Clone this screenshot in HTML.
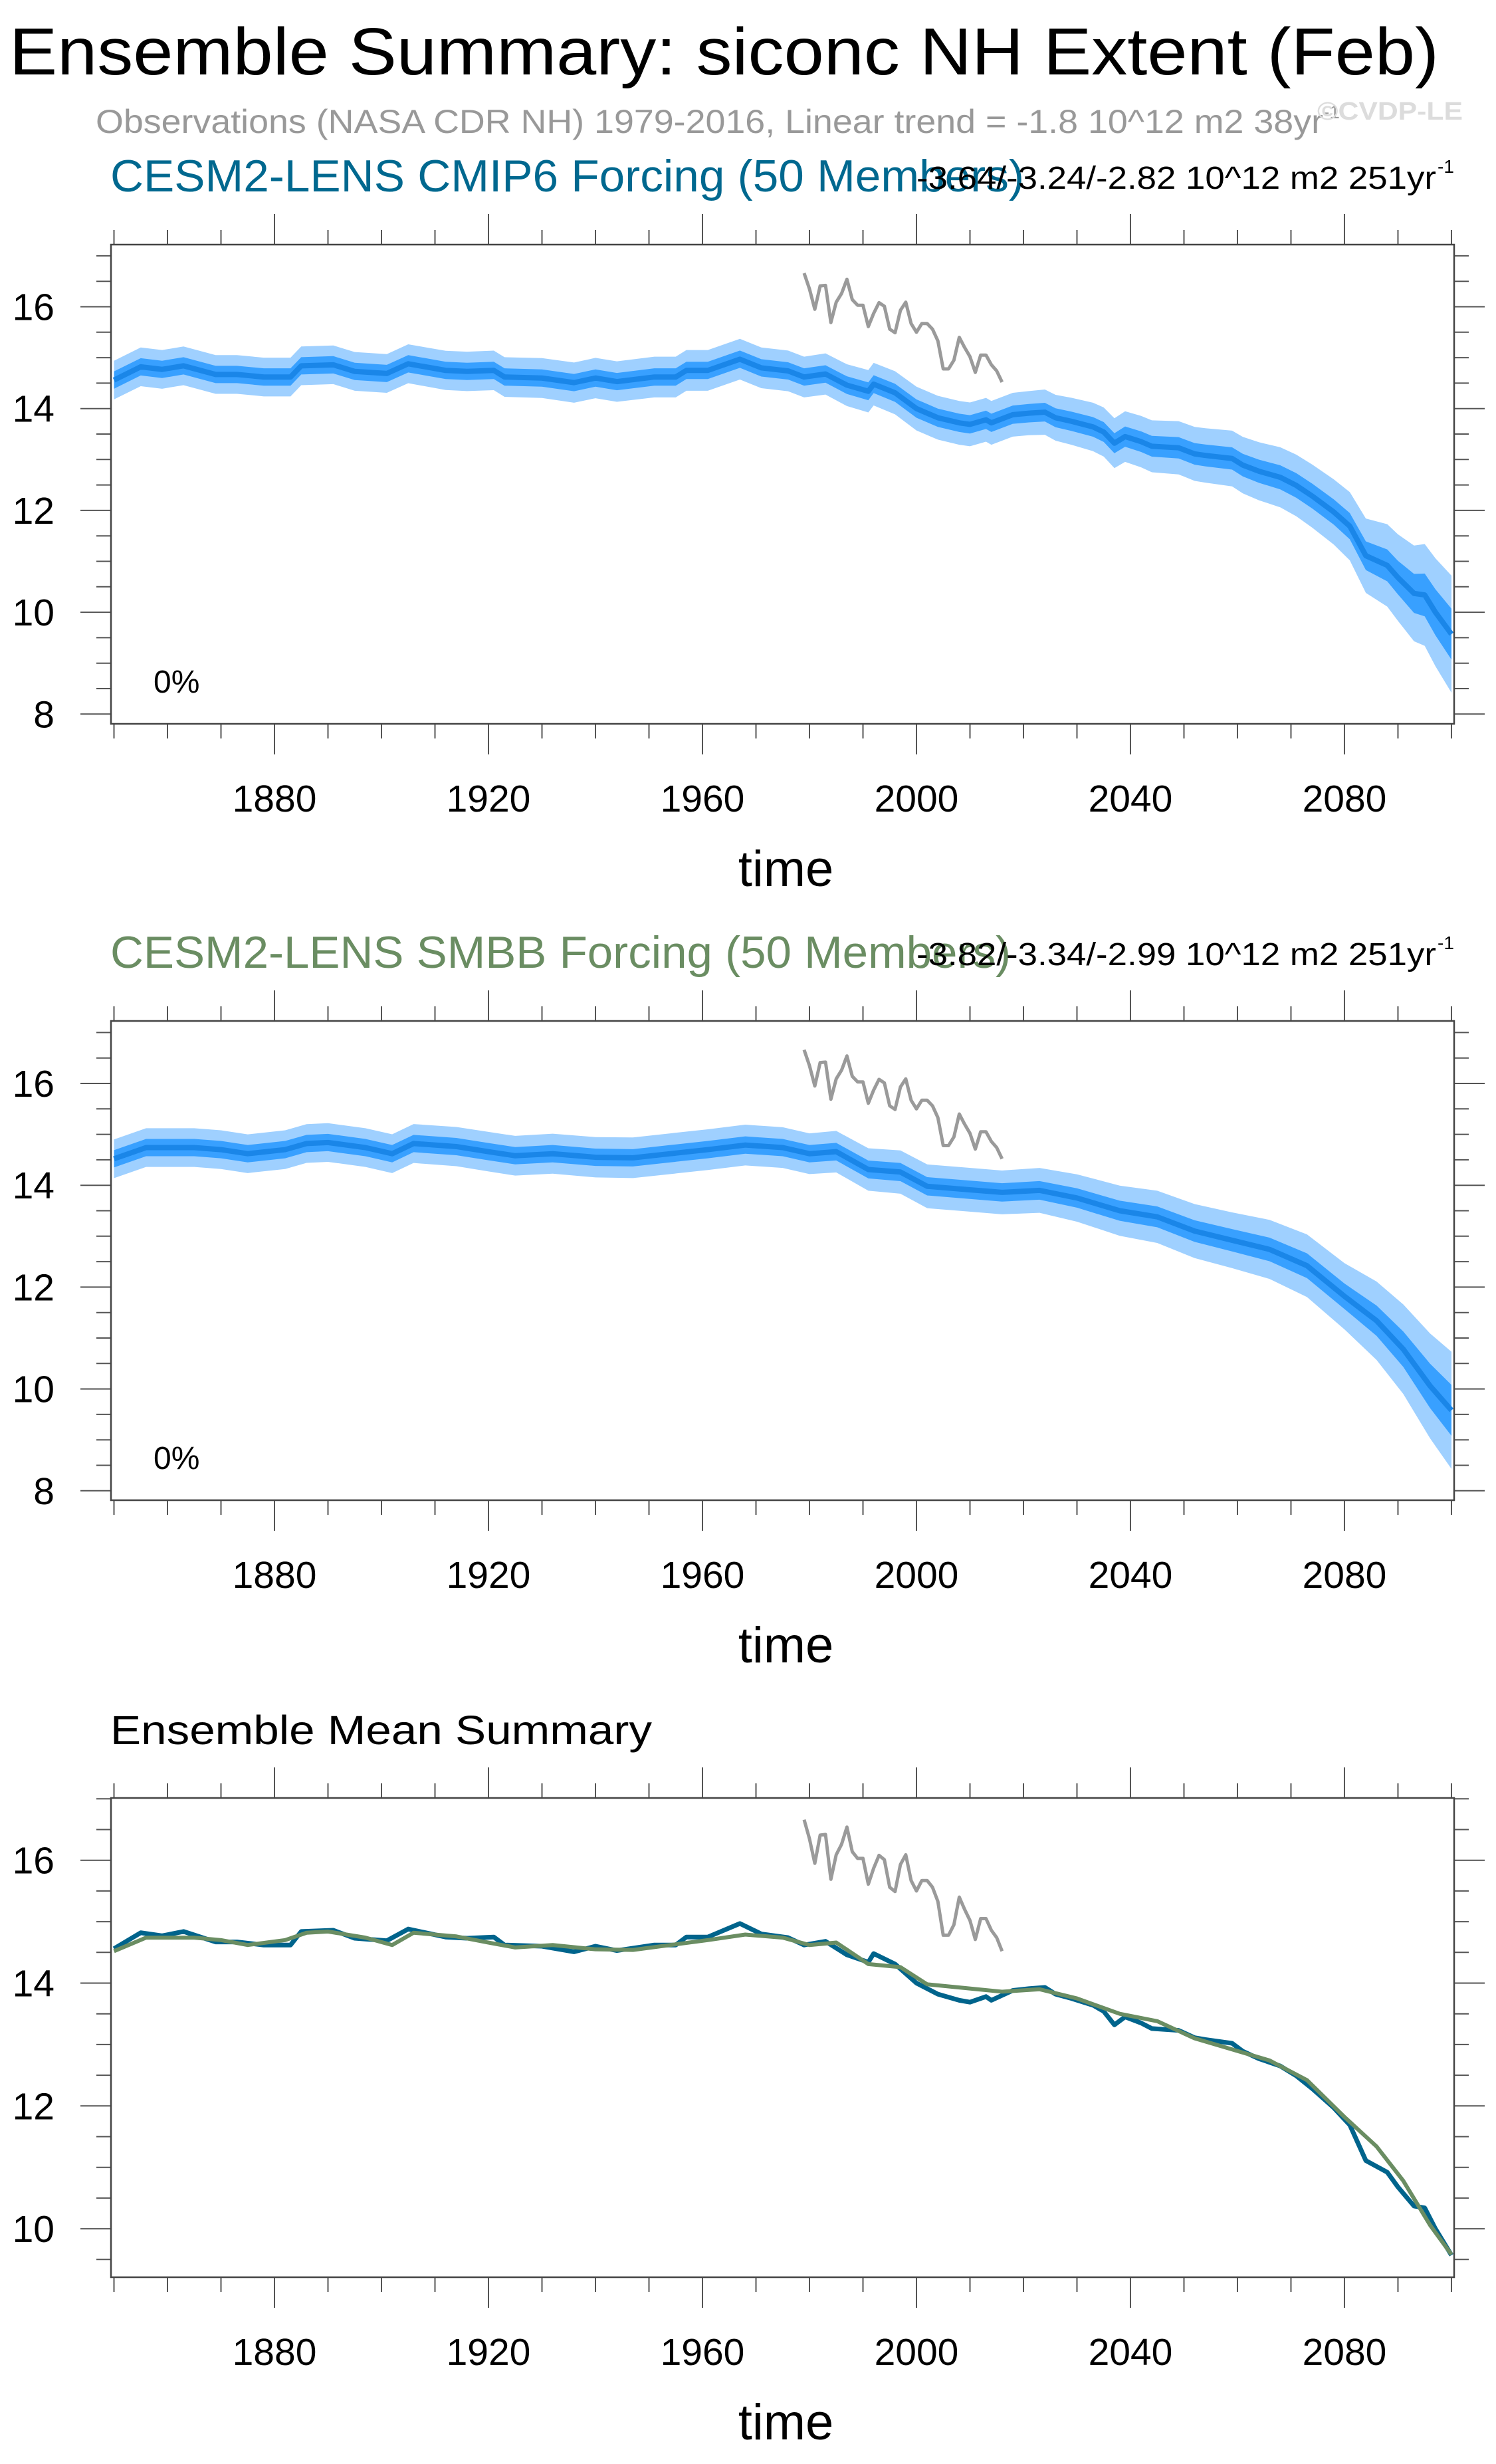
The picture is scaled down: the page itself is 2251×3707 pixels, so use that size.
<!DOCTYPE html>
<html><head><meta charset="utf-8"><style>
html,body{margin:0;padding:0;background:#fff;}
svg{display:block;font-family:"Liberation Sans",Arial,sans-serif;}
</style></head><body>
<svg id="fig" width="2251" height="3707" viewBox="0 0 2251 3707" xmlns="http://www.w3.org/2000/svg">
<rect x="0" y="0" width="2251" height="3707" fill="#fff"/>
<text x="14" y="112" font-size="100" textLength="2151" lengthAdjust="spacingAndGlyphs" fill="#000">Ensemble Summary: siconc NH Extent (Feb)</text>
<text x="144" y="200" font-size="50" textLength="1847" lengthAdjust="spacingAndGlyphs" fill="#999">Observations (NASA CDR NH) 1979-2016, Linear trend = -1.8 10^12 m2 38yr</text>
<text x="1991" y="178" font-size="28" fill="#999">-1</text>
<text x="1982" y="180" font-size="38" font-weight="bold" textLength="219" lengthAdjust="spacingAndGlyphs" fill="#dcdcdc">©CVDP-LE</text>
<g id="p1"></g>
<g id="p2"></g>
<g id="p3"></g>
</svg>
<script>
// ---- data ----
const obsYears = [1979,1980,1981,1982,1983,1984,1985,1986,1987,1988,1989,1990,1991,1992,1993,1994,1995,1996,1997,1998,1999,2000,2001,2002,2003,2004,2005,2006,2007,2008,2009,2010,2011,2012,2013,2014,2015,2016];
const obsValues = [16.66,16.35,15.95,16.41,16.42,15.69,16.09,16.26,16.54,16.14,16.03,16.03,15.61,15.87,16.08,16.01,15.56,15.49,15.93,16.09,15.67,15.50,15.67,15.67,15.56,15.33,14.78,14.78,14.95,15.40,15.20,15.02,14.71,15.05,15.05,14.86,14.74,14.52];
const cmipYears = [1850,1855,1859,1863,1869,1873,1878,1883,1885,1891,1895,1901,1905,1912,1916,1921,1923,1930,1936,1940,1944,1951,1955,1957,1961,1967,1971,1976,1979,1983,1987,1991,1992,1996,2000,2004,2008,2010,2013,2014,2018,2021,2024,2026,2029,2033,2035,2037,2039,2042,2044,2049,2052,2054,2059,2061,2064,2068,2071,2074,2078,2081,2084,2088,2090,2093,2095,2097,2100];
const cmipMean = [14.56,14.82,14.77,14.84,14.67,14.67,14.62,14.62,14.84,14.86,14.73,14.69,14.88,14.75,14.73,14.75,14.62,14.60,14.51,14.60,14.53,14.62,14.62,14.75,14.75,14.97,14.80,14.74,14.62,14.68,14.46,14.34,14.48,14.31,14.0,13.82,13.72,13.69,13.78,13.72,13.88,13.91,13.93,13.82,13.75,13.64,13.54,13.32,13.45,13.35,13.26,13.23,13.11,13.08,13.02,12.89,12.77,12.65,12.49,12.28,11.97,11.69,11.11,10.92,10.68,10.37,10.34,10.0,9.57];
const smbbYears = [1850,1856,1865,1870,1875,1882,1886,1890,1897,1902,1906,1914,1920,1925,1932,1940,1947,1954,1961,1968,1975,1980,1985,1991,1997,2002,2009,2016,2023,2030,2038,2045,2052,2059,2066,2073,2080,2086,2091,2096,2100];
const smbbMean = [14.52,14.74,14.74,14.70,14.62,14.70,14.82,14.84,14.74,14.62,14.82,14.76,14.66,14.58,14.62,14.55,14.54,14.62,14.70,14.79,14.74,14.62,14.66,14.31,14.26,13.98,13.92,13.86,13.90,13.75,13.50,13.38,13.10,12.92,12.74,12.42,11.82,11.34,10.78,10.06,9.58];
const spreadYears = [1850,1900,1950,1980,2000,2020,2040,2060,2070,2080,2090,2095,2100];
const innerSpread = [0.17,0.17,0.17,0.17,0.18,0.18,0.20,0.22,0.24,0.25,0.33,0.42,0.50];
const outerSpread = [0.38,0.38,0.40,0.40,0.43,0.43,0.50,0.55,0.60,0.65,0.85,1.00,1.15];
const xTickLabels = [1880,1920,1960,2000,2040,2080];
const yTicks12 = [8,10,12,14,16];
const yTicks3 = [10,12,14,16];
const trend1 = "-3.64/-3.24/-2.82 10^12 m2 251yr";
const trend2 = "-3.82/-3.34/-2.99 10^12 m2 251yr";

const NS = "http://www.w3.org/2000/svg";
function mk(parent, tag, attrs, text){
  const e = document.createElementNS(NS, tag);
  for (const k in attrs) e.setAttribute(k, attrs[k]);
  if (text !== undefined) e.textContent = text;
  parent.appendChild(e);
  return e;
}
function spreadAt(arr, yr){
  for (let i=0;i<spreadYears.length-1;i++){
    if (yr<=spreadYears[i+1]){
      const t=(yr-spreadYears[i])/(spreadYears[i+1]-spreadYears[i]);
      return arr[i]+t*(arr[i+1]-arr[i]);
    }
  }
  return arr[arr.length-1];
}

function panel(g, cfg){
  const L=167, R=2188, T=cfg.top, B=cfg.bottom;
  const X0=1849.44, X1=2100.5;
  const sx = yr => L + (yr-X0)/(X1-X0)*(R-L);
  const sy = v => cfg.y0px + (cfg.y0 - v)*cfg.unit;
  // ticks
  const tk = mk(g,'g',{stroke:'#555','stroke-width':2});
  
  
  for (let yr=1850; yr<=2100; yr+=10){
    const major = (yr-1880)%40===0;
    const len = major?46:22;
    const x=sx(yr);
    mk(tk,'line',{x1:x,x2:x,y1:T,y2:T-len});
    mk(tk,'line',{x1:x,x2:x,y1:B,y2:B+len});
  }
  for (let v=Math.ceil(cfg.ymin*2)/2; v<=cfg.ymax; v+=0.5){
    const major = Math.abs(v%2)<1e-6;
    const len = major?46:22;
    const y=sy(v);
    mk(tk,'line',{x1:L,x2:L-len,y1:y,y2:y});
    mk(tk,'line',{x1:R,x2:R+len,y1:y,y2:y});
  }
  // clip
  const cid='clip'+cfg.id;
  const defs=mk(g,'defs',{});
  const cp=mk(defs,'clipPath',{id:cid});
  mk(cp,'rect',{x:L,y:T,width:R-L,height:B-T});
  const plot=mk(g,'g',{'clip-path':'url(#'+cid+')'});
  
  
  function band(years, mean, arr, fill, name){
    let up=[], lo=[];
    years.forEach((yr,i)=>{ const s=spreadAt(arr,yr); up.push(sx(yr)+','+sy(mean[i]+s)); lo.push(sx(yr)+','+sy(mean[i]-s)); });
    const p=mk(plot,'polygon',{points:up.concat(lo.reverse()).join(' '),fill:fill});
    
    
  }
  function line(years, vals, color, w, name){
    const p=mk(plot,'polyline',{points:years.map((yr,i)=>sx(yr)+','+sy(vals[i])).join(' '),fill:'none',stroke:color,'stroke-width':w,'stroke-linejoin':'round'});
    
    
  }
  if (cfg.bands){
    band(cfg.years, cfg.mean, outerSpread, '#9fd0ff', 'outer-spread-band');
    band(cfg.years, cfg.mean, innerSpread, '#38a0ff', 'inner-spread-band');
    line(cfg.years, cfg.mean, '#1a86e8', 8, 'ensemble-mean-line');
  } else {
    line(cmipYears, cmipMean, '#00648c', 7, 'cmip6-mean-line');
    line(smbbYears, smbbMean, '#6a8d62', 6, 'smbb-mean-line');
  }
  line(obsYears, obsValues, '#9a9a9a', 5, 'observations-line');
  // box
  const bx=mk(g,'rect',{x:L,y:T,width:R-L,height:B-T,fill:'none',stroke:'#444','stroke-width':2.5});
  
  
  // labels
  xTickLabels.forEach(yr=>{
    const t=mk(g,'text',{x:sx(yr),y:cfg.xlabY,'font-size':57,'text-anchor':'middle',fill:'#000'},String(yr));
    
    
  });
  cfg.yticks.forEach(v=>{
    const t=mk(g,'text',{x:82,y:sy(v)+20,'font-size':57,'text-anchor':'end',fill:'#000'},String(v));
    
    
  });
  const xt=mk(g,'text',{x:(L+R)/2+5,y:cfg.xlabY+112,'font-size':76,'text-anchor':'middle',fill:'#000'},'time');
  
  
  if (cfg.title){
    const tt=mk(g,'text',{x:166,y:T-80,'font-size':68,fill:cfg.titleColor,textLength:cfg.titleLen,lengthAdjust:'spacingAndGlyphs'},cfg.title);
    
    
  }
  if (cfg.trend){
    const tr=mk(g,'text',{x:1379,y:T-84,'font-size':48,fill:'#000',textLength:782,lengthAdjust:'spacingAndGlyphs'},cfg.trend);
    
    
    const ex=mk(g,'text',{x:2163,y:T-108,'font-size':28,fill:'#000'},'-1');
    
    
    const pc=mk(g,'text',{x:231,y:B-47,'font-size':48,fill:'#000'},'0%');
    
    
  }
}

panel(document.getElementById('p1'),{id:1,top:368,bottom:1089,y0:16,y0px:461.5,unit:76.6,ymin:7.81,ymax:17.22,
  yticks:yTicks12,bands:true,years:cmipYears,mean:cmipMean,xlabY:1221,
  title:'CESM2-LENS CMIP6 Forcing (50 Members)',titleColor:'#00688f',titleLen:1375,trend:trend1});
panel(document.getElementById('p2'),{id:2,top:1536,bottom:2257,y0:16,y0px:1630,unit:76.6,ymin:7.81,ymax:17.22,
  yticks:yTicks12,bands:true,years:smbbYears,mean:smbbMean,xlabY:2389,
  title:'CESM2-LENS SMBB Forcing (50 Members)',titleColor:'#6a8d62',titleLen:1355,trend:trend2});
panel(document.getElementById('p3'),{id:3,top:2705,bottom:3426,y0:16,y0px:2798.7,unit:92.4,ymin:9.21,ymax:17.01,
  yticks:yTicks3,bands:false,xlabY:3558});
const p3t=mk(document.getElementById('p3'),'text',{x:166,y:2624,'font-size':61,fill:'#000',textLength:815,lengthAdjust:'spacingAndGlyphs'},'Ensemble Mean Summary');


</script>
</body></html>
